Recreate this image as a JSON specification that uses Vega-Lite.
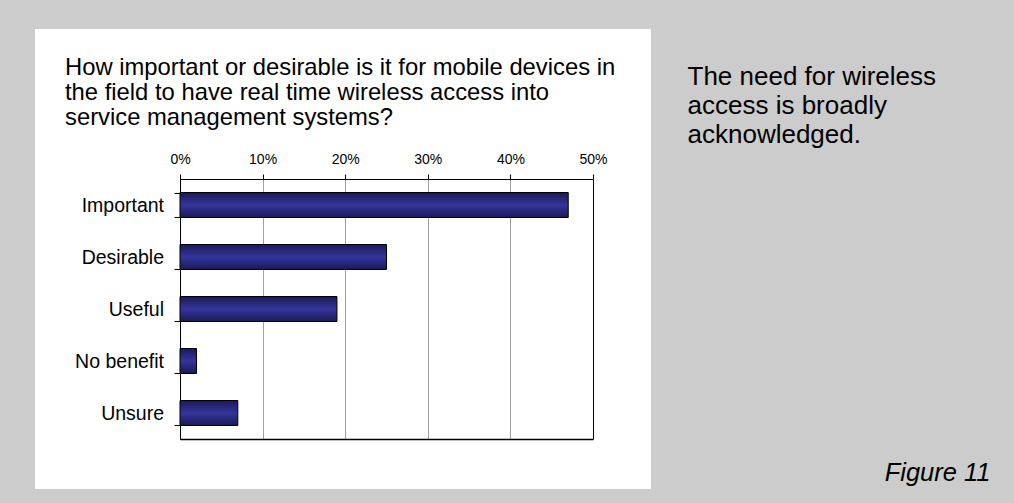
{
  "$schema": "https://vega.github.io/schema/vega-lite/v6.json",
  "autosize": "none",
  "width": 616,
  "height": 460,
  "padding": {"left": 35, "top": 29, "right": 363, "bottom": 14},
  "background": "#cccccc",
  "config": {
    "view": {"fill": "white", "stroke": null},
    "font": "Liberation Sans"
  },
  "title": {
    "text": ["How important or desirable is it for mobile devices in", "the field to have real time wireless access into", "service management systems?"],
    "anchor": "start",
    "frame": "group",
    "orient": "top",
    "offset": -111,
    "dx": 30,
    "font": "Liberation Sans",
    "fontSize": 23.8,
    "fontWeight": "normal",
    "color": "#000000",
    "lineHeight": 25
  },
  "data": {
    "values": [
      {"answer": "Important", "pct": 0.47},
      {"answer": "Desirable", "pct": 0.25},
      {"answer": "Useful", "pct": 0.19},
      {"answer": "No benefit", "pct": 0.02},
      {"answer": "Unsure", "pct": 0.07}
    ]
  },
  "layer": [
    {
      "mark": {
        "type": "bar",
        "fill": {"gradient": "linear", "x1": 0, "y1": 0, "x2": 0, "y2": 1,
          "stops": [{"offset": 0, "color": "#1a1a55"}, {"offset": 0.5, "color": "#34349c"}, {"offset": 1, "color": "#1a1a55"}]},
        "stroke": "#000000",
        "strokeWidth": 1
      },
      "encoding": {
        "x": {
          "field": "pct", "type": "quantitative",
          "scale": {"domain": [0, 0.5], "range": [145, 558], "nice": false, "zero": true},
          "axis": {
            "orient": "top", "offset": -150, "title": null,
            "values": [0, 0.1, 0.2, 0.3, 0.4, 0.5], "format": ".0%",
            "labelFont": "Liberation Sans", "labelFontSize": 14, "labelColor": "#000000",
            "labelBaseline": "alphabetic", "labelPadding": 10.5, "labelFlush": false,
            "tickSize": 5, "tickColor": "#000000",
            "domainColor": "#000000", "domainWidth": 1,
            "grid": true,
            "gridColor": {"condition": {"test": "datum.value === 0.5 || datum.value === 0", "value": "#000000"}, "value": "#a0a0a0"},
            "gridWidth": 1
          }
        },
        "y": {
          "field": "answer", "type": "nominal",
          "sort": ["Important", "Desirable", "Useful", "No benefit", "Unsure"],
          "scale": {"range": [150, 410], "paddingInner": 0.52, "paddingOuter": 0.26},
          "axis": {
            "orient": "left", "offset": -145, "title": null,
            "tickBand": "extent", "tickSize": 6, "tickColor": "#000000",
            "domainColor": "#000000", "domainWidth": 1,
            "labelFont": "Liberation Sans", "labelFontSize": 19.5, "labelColor": "#000000",
            "labelPadding": 10.5, "grid": false
          }
        }
      }
    },
    {
      "mark": {"type": "tick", "opacity": 0},
      "encoding": {
        "x": {
          "field": "pct", "type": "quantitative",
          "axis": {
            "orient": "bottom", "offset": -50, "grid": false, "labels": false, "ticks": false,
            "domainColor": "#000000", "domainWidth": 1.3,
            "title": "Figure 11",
            "titleFont": "Liberation Sans", "titleFontSize": 25.5, "titleFontStyle": "italic",
            "titleFontWeight": "normal", "titleColor": "#000000",
            "titleAlign": "right", "titleBaseline": "alphabetic", "titleAnchor": "end",
            "titleX": 955, "titleY": 41
          }
        },
        "y": {
          "field": "answer", "type": "nominal",
          "sort": ["Important", "Desirable", "Useful", "No benefit", "Unsure"],
          "axis": {
            "orient": "right", "domain": false, "ticks": false, "labels": false, "grid": false,
            "title": ["The need for wireless", "access is broadly", "acknowledged."],
            "titleFont": "Liberation Sans", "titleFontSize": 26, "titleFontWeight": "normal",
            "titleColor": "#000000", "titleAngle": 0, "titleAlign": "left",
            "titleBaseline": "alphabetic", "titleLineHeight": 29,
            "titleX": 36, "titleY": 55
          }
        }
      }
    }
  ]
}
